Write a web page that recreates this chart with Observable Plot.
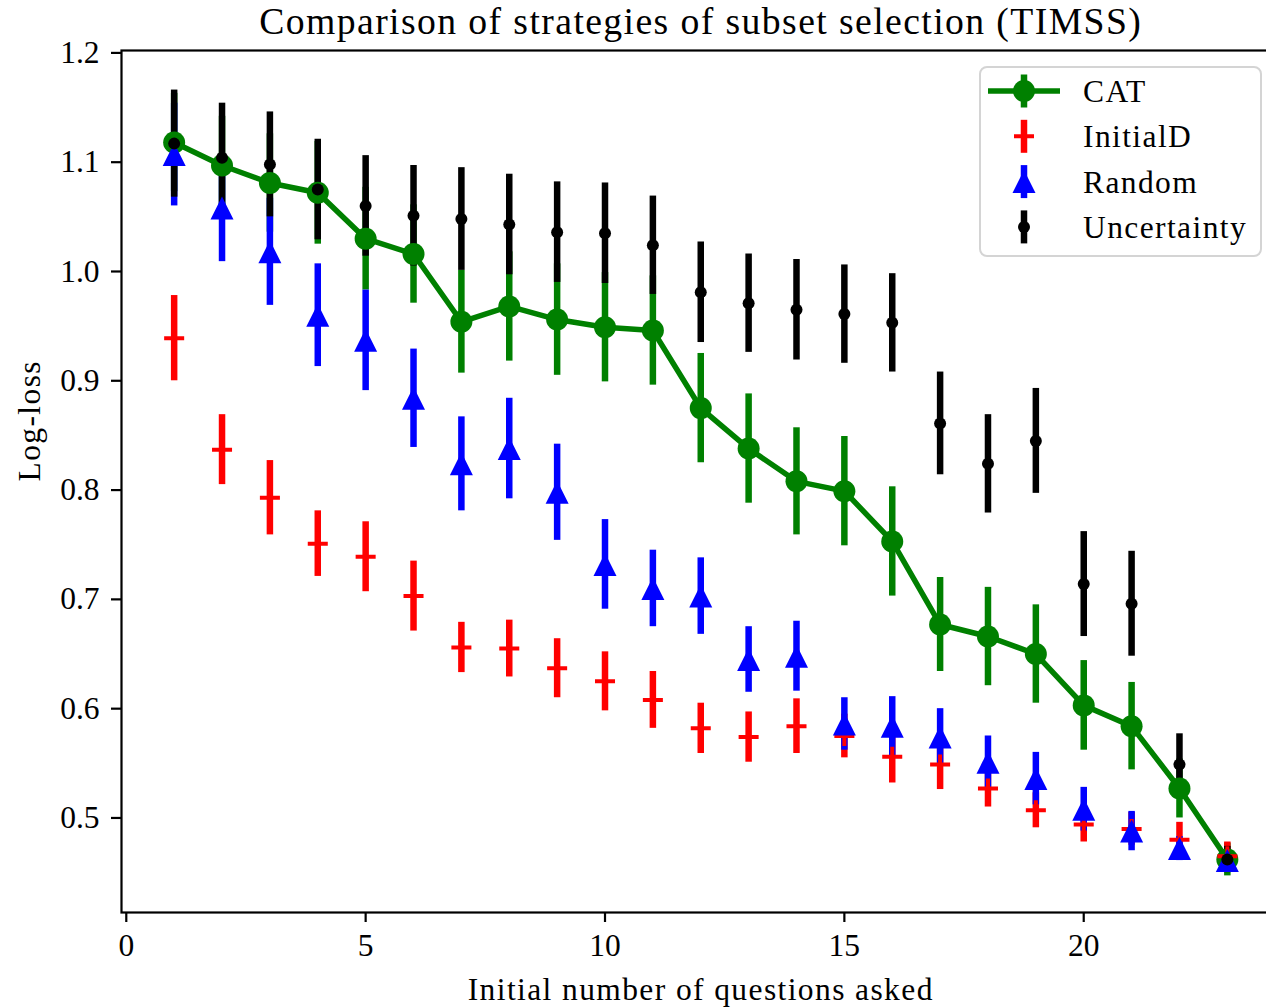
<!DOCTYPE html>
<html>
<head>
<meta charset="utf-8">
<script src="https://cdn.jsdelivr.net/npm/d3@7"></script>
<script src="https://cdn.jsdelivr.net/npm/@observablehq/plot@0.6"></script>
<style>
html, body { margin: 0; padding: 0; overflow: hidden; background: #fff; width: 1266px; height: 1007px; }
#wrap { position: relative; width: 1266px; height: 1007px; overflow: hidden; }
#chart { position: absolute; left: 0; top: 0; width: 1290px; height: 1007px; }
#chart svg { max-width: none !important; width: 1290px !important; height: 1007px !important; }
#legend { position: absolute; left: 979px; top: 66px; width: 283px; height: 191px; box-sizing: border-box;
  border: 2.5px solid #d4d4d4; border-radius: 8px; background: rgba(255,255,255,0.8); }
</style>
</head>
<body>
<div id="wrap"><div id="chart"></div><div id="legend"></div></div>
<script>
// ---- data ----
const questions = [1, 2, 3, 4, 5, 6, 7, 8, 9, 10, 11, 12, 13, 14, 15, 16, 17, 18, 19, 20, 21, 22, 23];

const catLoss = [1.118, 1.097, 1.081, 1.072, 1.030, 1.016, 0.954, 0.968, 0.956, 0.949, 0.946, 0.875,
                 0.838, 0.808, 0.799, 0.753, 0.677, 0.666, 0.650, 0.603, 0.584, 0.527, 0.462];
const catErr  = [0.045, 0.045, 0.045, 0.047, 0.047, 0.045, 0.047, 0.050, 0.051, 0.050, 0.050, 0.050,
                 0.050, 0.049, 0.050, 0.050, 0.043, 0.045, 0.045, 0.041, 0.040, 0.027, 0.015];

const initLoss = [0.939, 0.837, 0.793, 0.751, 0.739, 0.703, 0.656, 0.655, 0.637, 0.625, 0.608, 0.582,
                  0.574, 0.584, 0.575, 0.556, 0.549, 0.527, 0.507, 0.494, 0.490, 0.480, 0.465];
const initErr  = [0.039, 0.032, 0.034, 0.030, 0.032, 0.032, 0.023, 0.026, 0.027, 0.027, 0.026, 0.023,
                  0.023, 0.025, 0.020, 0.024, 0.023, 0.017, 0.016, 0.016, 0.015, 0.016, 0.013];

const randLoss = [1.107, 1.058, 1.018, 0.960, 0.937, 0.884, 0.824, 0.838, 0.798, 0.732, 0.710, 0.703,
                  0.645, 0.648, 0.586, 0.584, 0.574, 0.551, 0.536, 0.508, 0.488, 0.472, 0.461];
const randErr  = [0.047, 0.049, 0.049, 0.047, 0.046, 0.045, 0.043, 0.046, 0.044, 0.041, 0.035, 0.035,
                  0.030, 0.032, 0.024, 0.027, 0.026, 0.024, 0.024, 0.020, 0.018, 0.011, 0.008];

const uncLoss = [1.117, 1.104, 1.098, 1.075, 1.060, 1.051, 1.048, 1.043, 1.036, 1.035, 1.024, 0.981,
                 0.971, 0.965, 0.961, 0.953, 0.861, 0.824, 0.845, 0.714, 0.696, 0.549, 0.462];
const uncErr  = [0.049, 0.050, 0.048, 0.046, 0.046, 0.046, 0.047, 0.046, 0.046, 0.046, 0.045, 0.046,
                 0.045, 0.046, 0.045, 0.045, 0.047, 0.045, 0.048, 0.048, 0.048, 0.028, 0.012];

const seriesNames  = ["CAT", "InitialD", "Random", "Uncertainty"];
const seriesColors = ["green", "red", "blue", "black"];

const xTicks = [0, 5, 10, 15, 20];
const yTicks = [0.5, 0.6, 0.7, 0.8, 0.9, 1.0, 1.1, 1.2];

const titleText = "Comparison of strategies of subset selection (TIMSS)";
const xLabel = "Initial number of questions asked";
const yLabel = "Log-loss";

// ---- table ----
const seriesValues = [catLoss, initLoss, randLoss, uncLoss];
const seriesErrors = [catErr, initErr, randErr, uncErr];
const rows = seriesNames.flatMap((name, s) =>
  questions.map((q, i) => ({series: name, q, v: seriesValues[s][i], e: seriesErrors[s][i]})));
const byName = n => rows.filter(r => r.series === n);

const FONT = "'Liberation Serif', 'DejaVu Serif', serif";

// matplotlib-like "^" marker centred on its bounding box
const triangleUp = {
  draw(ctx, size) {
    const h = Math.sqrt(size / Math.PI);
    ctx.moveTo(0, -h); ctx.lineTo(h, h); ctx.lineTo(-h, h); ctx.closePath();
  }
};

const chart = Plot.plot({
  width: 1290, height: 1007,
  marginLeft: 121, marginRight: 10.5, marginTop: 50, marginBottom: 95,
  style: {fontFamily: FONT, fontSize: "31.5px", color: "black", background: "white", overflow: "visible", maxWidth: "none"},
  x: {domain: [-0.1, 24.1]},
  y: {domain: [0.4135, 1.2022]},
  marks: [
    ...seriesNames.map((name, s) => Plot.ruleX(byName(name), {
      x: "q", y1: d => d.v - d.e, y2: d => d.v + d.e, stroke: seriesColors[s], strokeWidth: 6.5
    })),
    Plot.line(byName("CAT"), {x: "q", y: "v", stroke: "green", strokeWidth: 5.5}),
    Plot.dot(byName("CAT"), {x: "q", y: "v", r: 11, fill: "green"}),
    Plot.dot(byName("InitialD"), {x: "q", y: "v", r: 6.5, symbol: "plus", stroke: "red", strokeWidth: 4}),
    Plot.dot(byName("Random"), {x: "q", y: "v", r: 11.5, symbol: triangleUp, fill: "blue"}),
    Plot.dot(byName("Uncertainty"), {x: "q", y: "v", r: 6, fill: "black"}),
    Plot.frame({stroke: "black", strokeWidth: 2.2}),
    Plot.axisX({ticks: xTicks, tickSize: 10, tickPadding: 11, strokeWidth: 2.2, label: null, tickFormat: d => String(d)}),
    Plot.axisY({ticks: yTicks, tickSize: 10, tickPadding: 12, strokeWidth: 2.2, label: null, tickFormat: d3.format(".1f")}),
    Plot.text([titleText], {frameAnchor: "top", dy: -17, lineAnchor: "bottom", fontSize: 37.7}),
    Plot.text([xLabel], {frameAnchor: "bottom", dy: 87, lineAnchor: "bottom"}),
    Plot.text([yLabel], {frameAnchor: "left", dx: -82, rotate: -90, lineAnchor: "bottom"})
  ]
});
document.getElementById("chart").appendChild(chart);

d3.select(chart).selectAll("text")
  .filter(function () { return [titleText, xLabel, yLabel].includes(this.textContent); })
  .style("letter-spacing", "1.4px");

// ---- legend ----
const leg = d3.select("#legend").append("svg")
  .attr("width", 283).attr("height", 191)
  .style("position", "absolute").style("left", "-2.5px").style("top", "-2.5px");

seriesNames.forEach((name, i) => {
  const color = seriesColors[i];
  const cy = 25 + i * 45.3;
  const g = leg.append("g").attr("transform", `translate(45,${cy})`);
  g.append("line").attr("x1", 0).attr("x2", 0).attr("y1", -16.5).attr("y2", 16.5)
    .attr("stroke", color).attr("stroke-width", 6.5);
  if (name === "CAT") {
    g.append("line").attr("x1", -36).attr("x2", 36).attr("y1", 0).attr("y2", 0)
      .attr("stroke", color).attr("stroke-width", 5.5);
    g.append("circle").attr("r", 11).attr("fill", color);
  } else if (name === "InitialD") {
    g.append("path").attr("d", "M-10,0H10M0,-10V10").attr("stroke", color).attr("stroke-width", 4).attr("fill", "none");
  } else if (name === "Random") {
    g.append("path").attr("d", "M0,-11.5L11.5,11.5L-11.5,11.5Z").attr("fill", color);
  } else {
    g.append("circle").attr("r", 6).attr("fill", color);
  }
  leg.append("text").attr("x", 104).attr("y", cy + 11).text(name)
    .attr("font-family", FONT).attr("font-size", "31.5px").style("letter-spacing", "1.4px").attr("fill", "black");
});
</script>
</body>
</html>
